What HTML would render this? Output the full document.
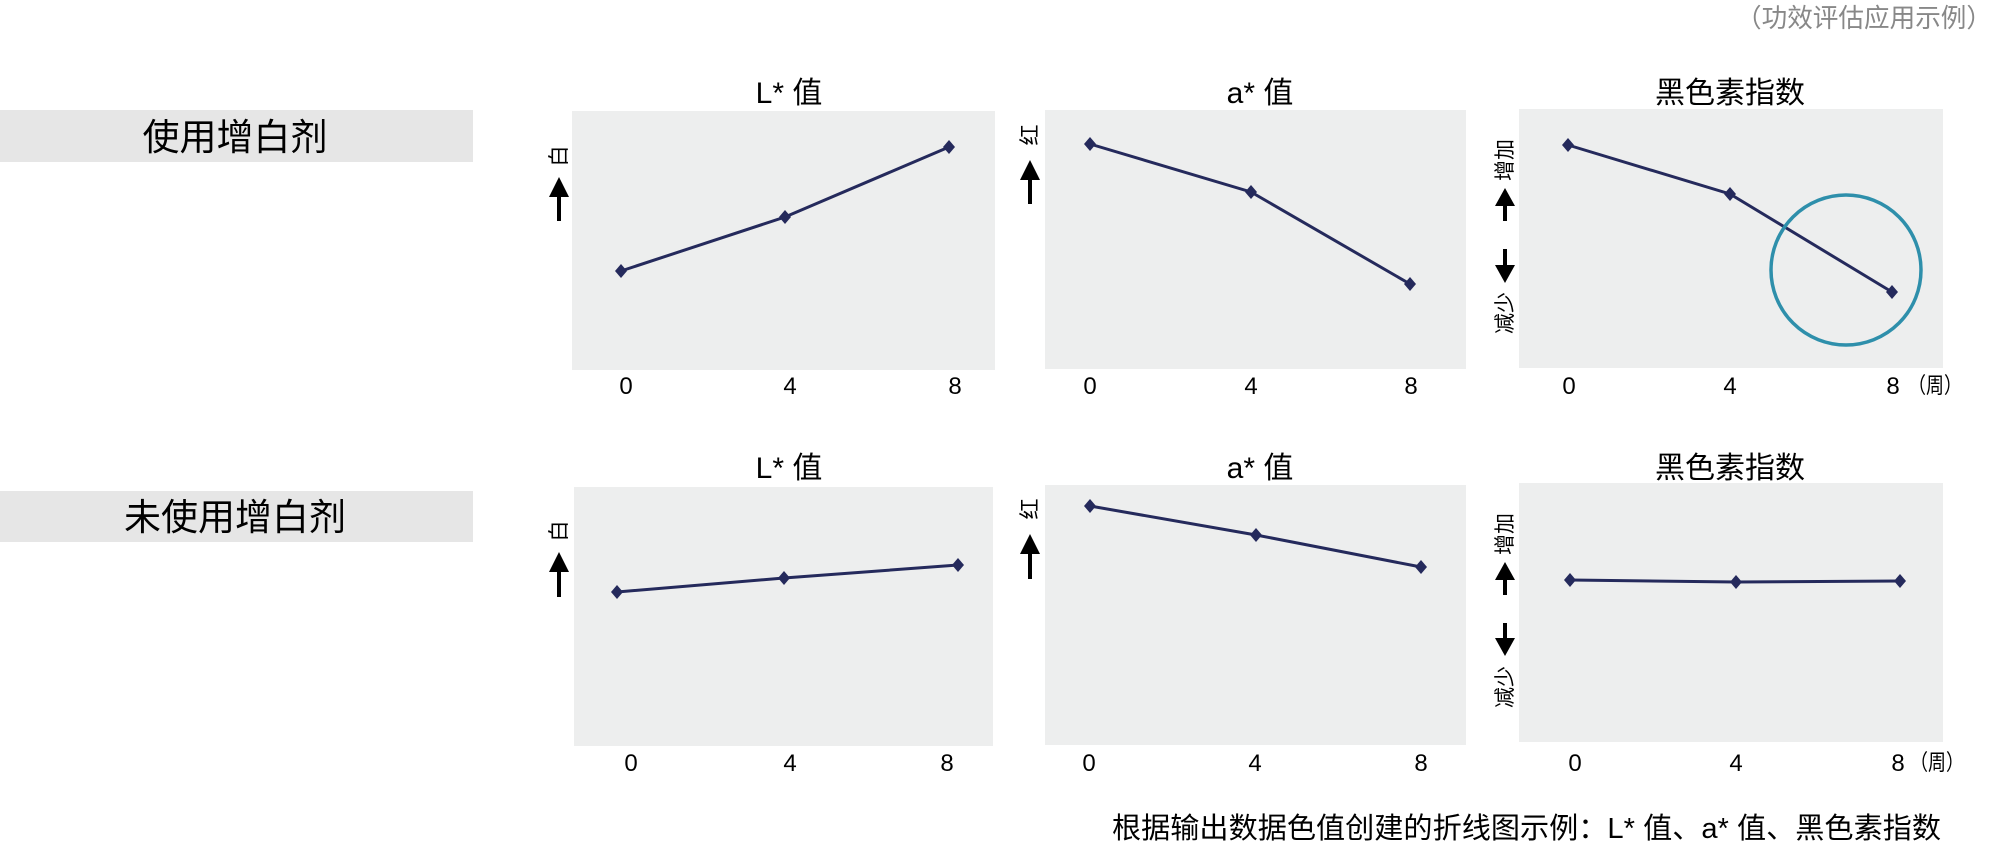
<!DOCTYPE html>
<html><head><meta charset="utf-8"><style>
html,body{margin:0;padding:0;background:#fff;}
svg{display:block;}
text{font-family:"Liberation Sans","Noto Sans CJK SC",sans-serif;}
</style></head><body>
<svg width="2009" height="848" viewBox="0 0 2009 848" xmlns="http://www.w3.org/2000/svg">
<defs>
<marker id="d" markerWidth="16" markerHeight="16" refX="8" refY="8" markerUnits="userSpaceOnUse"><path d="M8 1 L14 8 L8 15 L2 8 Z" fill="#252a5c"/></marker>
</defs>
<text x="1736" y="27" font-size="26" fill="#888" textLength="256" lengthAdjust="spacingAndGlyphs">（功效评估应用示例）</text>
<!-- bands -->
<rect x="0" y="110" width="473" height="52" fill="#e6e6e6"/>
<text x="235" y="150" text-anchor="middle" font-size="37" fill="#000">使用增白剂</text>
<rect x="0" y="491" width="473" height="51" fill="#e6e6e6"/>
<text x="235" y="530" text-anchor="middle" font-size="37" fill="#000">未使用增白剂</text>
<!-- panels -->
<g fill="#edeeee">
<rect x="572" y="111" width="423" height="259"/>
<rect x="1045" y="110" width="421" height="259"/>
<rect x="1519" y="109" width="424" height="259"/>
<rect x="574" y="487" width="419" height="259"/>
<rect x="1045" y="485" width="421" height="260"/>
<rect x="1519" y="483" width="424" height="259"/>
</g>
<!-- titles -->
<g font-size="30" text-anchor="middle" fill="#000">
<text x="789" y="103">L* 值</text>
<text x="1260" y="103">a* 值</text>
<text x="1730" y="103">黑色素指数</text>
<text x="789" y="478">L* 值</text>
<text x="1260" y="478">a* 值</text>
<text x="1730" y="478">黑色素指数</text>
</g>
<!-- ticks -->
<g font-size="24" text-anchor="middle" fill="#000">
<text x="626" y="394">0</text><text x="790" y="394">4</text><text x="955" y="394">8</text>
<text x="1090" y="394">0</text><text x="1251" y="394">4</text><text x="1411" y="394">8</text>
<text x="1569" y="394">0</text><text x="1730" y="394">4</text><text x="1893" y="394">8</text>
<text x="631" y="771">0</text><text x="790" y="771">4</text><text x="947" y="771">8</text>
<text x="1089" y="771">0</text><text x="1255" y="771">4</text><text x="1421" y="771">8</text>
<text x="1575" y="771">0</text><text x="1736" y="771">4</text><text x="1898" y="771">8</text>
</g>
<text x="1908" y="393" font-size="22" fill="#000" textLength="54" lengthAdjust="spacingAndGlyphs">（周）</text>
<text x="1910" y="770" font-size="22" fill="#000" textLength="54" lengthAdjust="spacingAndGlyphs">（周）</text>
<!-- y labels -->
<g font-size="21" fill="#000" text-anchor="middle">
<text transform="translate(566,156) rotate(-90)">白</text>
<text transform="translate(1037,135) rotate(-90)">红</text>
<text transform="translate(1512,160) rotate(-90)">增加</text>
<text transform="translate(1512,313) rotate(-90)">减少</text>
<text transform="translate(566,531) rotate(-90)">白</text>
<text transform="translate(1037,509) rotate(-90)">红</text>
<text transform="translate(1512,534) rotate(-90)">增加</text>
<text transform="translate(1512,687) rotate(-90)">减少</text>
</g>
<!-- arrows -->
<g fill="#000">
<path d="M559 177 L569 197 L561 197 L561 221 L557 221 L557 197 L549 197 Z"/>
<path d="M1030 160 L1040 180 L1032 180 L1032 204 L1028 204 L1028 180 L1020 180 Z"/>
<path d="M1505 188 L1515 206 L1507 206 L1507 221 L1503 221 L1503 206 L1495 206 Z"/>
<path d="M1505 283 L1515 265 L1507 265 L1507 249 L1503 249 L1503 265 L1495 265 Z"/>
<path d="M559 552 L569 572 L561 572 L561 597 L557 597 L557 572 L549 572 Z"/>
<path d="M1030 534 L1040 554 L1032 554 L1032 579 L1028 579 L1028 554 L1020 554 Z"/>
<path d="M1505 562 L1515 580 L1507 580 L1507 595 L1503 595 L1503 580 L1495 580 Z"/>
<path d="M1505 656 L1515 638 L1507 638 L1507 623 L1503 623 L1503 638 L1495 638 Z"/>
</g>
<!-- series -->
<g fill="none" stroke="#252a5c" stroke-width="3" marker-start="url(#d)" marker-mid="url(#d)" marker-end="url(#d)">
<polyline points="621,271 785,217 949,147"/>
<polyline points="1090,144 1251,192 1410,284"/>
<polyline points="1568,145 1730,194 1892,292"/>
<polyline points="617,592 784,578 958,565"/>
<polyline points="1090,506 1256,535 1421,567"/>
<polyline points="1570,580 1736,582 1900,581"/>
</g>
<ellipse cx="1846" cy="270" rx="75" ry="75" fill="none" stroke="#2e8fab" stroke-width="3.5"/>
<text x="1112" y="838" font-size="29" fill="#000" textLength="829" lengthAdjust="spacingAndGlyphs">根据输出数据色值创建的折线图示例：L* 值、a* 值、黑色素指数</text>
</svg>
</body></html>
